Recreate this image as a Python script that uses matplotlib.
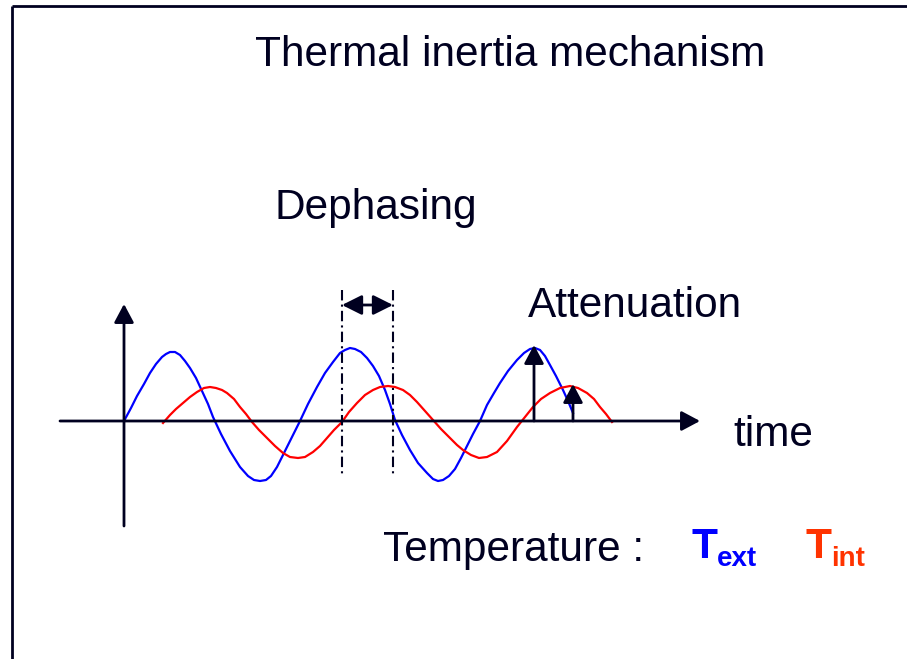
import matplotlib
matplotlib.use('Agg')
import matplotlib.pyplot as plt

# coordinates (pixels, y down)
blue_x = [124, 131, 137, 144, 150, 156, 162, 166, 170, 175, 180, 185, 190, 196,
          202, 208, 213, 221, 230, 240, 248, 254, 260, 266, 271, 277, 283, 291,
          300, 308, 317, 325, 333, 340, 345, 350, 355, 361, 367, 373, 379, 385,
          390, 395, 402, 410, 418, 427, 433, 438, 443, 449, 455, 461, 467, 473,
          480, 487, 494, 500, 508, 517, 524, 530, 535, 540, 545, 550, 556, 563,
          568, 573]
blue_y = [421, 408, 396, 384, 373, 364, 357, 354, 352, 352, 355, 361, 368, 378,
          391, 404, 417, 434, 451, 467, 476, 480, 481, 480, 476, 467, 455, 439,
          421, 404, 387, 373, 362, 353, 350, 348, 349, 352, 358, 366, 376, 390,
          404, 420, 435, 450, 463, 473, 479, 481, 480, 476, 469, 458, 446, 434,
          421, 405, 393, 383, 371, 360, 353, 349, 348, 350, 356, 365, 376, 390,
          401, 413]
red_x = [163, 170, 176, 183, 190, 197, 204, 210, 216, 222, 227, 234, 240, 246,
         252, 259, 267, 275, 283, 290, 298, 305, 313, 320, 327, 334, 342, 349,
         357, 365, 373, 380, 388, 395, 403, 410, 417, 425, 433, 441, 450, 457,
         463, 471, 479, 487, 497, 507, 517, 525, 533, 541, 550, 560, 570, 578,
         587, 594, 600, 606, 612]
red_y = [423, 415, 409, 403, 397, 392, 388, 387, 388, 390, 393, 399, 407, 414,
         422, 430, 438, 446, 453, 457, 458, 457, 452, 446, 438, 430, 422, 412,
         403, 395, 390, 387, 386, 387, 390, 395, 402, 411, 420, 429, 438, 445,
         450, 455, 458, 457, 452, 441, 427, 417, 407, 399, 393, 388, 386, 388,
         393, 399, 407, 414, 422]

dephase_x = [342, 393]
atten_x = [534, 573]
atten_tip = [345, 384]

INK = '#000020'
C_EXT, C_INT, C_TEXT_INT = '#0000ff', '#ff0000', '#ff3300'
FONT = ['Liberation Sans', 'DejaVu Sans']
FS = 30.5

fig = plt.figure(figsize=(9.07, 6.59), dpi=100)
ax = fig.add_axes([0, 0, 1, 1])
ax.set_xlim(0, 907)
ax.set_ylim(659, 0)
ax.axis('off')

# frame (top and left only)
ax.plot([12, 907], [6, 6], color=INK, lw=2, solid_capstyle='butt')
ax.plot([12, 12], [6, 659], color=INK, lw=2, solid_capstyle='butt')

arrow = dict(arrowstyle='-|>,head_length=0.75,head_width=0.4', color=INK,
             lw=2, mutation_scale=15, shrinkA=0, shrinkB=0)
# axes
ax.annotate('', xy=(700, 421), xytext=(60, 421), arrowprops=arrow)
ax.annotate('', xy=(124, 304), xytext=(124, 526), arrowprops=arrow)

ax.plot(blue_x, blue_y, color=C_EXT, lw=1.6, solid_joinstyle='round')
ax.plot(red_x, red_y, color=C_INT, lw=1.6, solid_joinstyle='round')

# dephasing markers
for x in dephase_x:
    ax.plot([x, x], [290, 474], color=INK, lw=1.5, dashes=(5, 2, 1, 2))
ax.annotate('', xy=(dephase_x[1], 305), xytext=(dephase_x[0], 305),
            arrowprops=dict(arrow, arrowstyle='<|-|>,head_length=0.8,head_width=0.4'))

# attenuation arrows
for x, tip in zip(atten_x, atten_tip):
    ax.annotate('', xy=(x, tip), xytext=(x, 421), arrowprops=arrow)

txt = dict(color=INK, fontsize=FS, family=FONT, va='baseline')
ax.text(510, 66, 'Thermal inertia mechanism', ha='center', **txt)
ax.text(275, 219, 'Dephasing', ha='left', **txt)
ax.text(528, 317, 'Attenuation', ha='left', **txt)
ax.text(733, 446, 'time', ha='left', **txt)
ax.text(383, 561, 'Temperature :', ha='left', **txt)

ax.text(692, 558, 'T', color=C_EXT, fontsize=FS, family=FONT,
        weight='bold', va='baseline')
ax.text(717, 566, 'ext', color=C_EXT, fontsize=20, family=FONT,
        weight='bold', va='baseline')
ax.text(806, 558, 'T', color=C_TEXT_INT, fontsize=FS, family=FONT,
        weight='bold', va='baseline')
ax.text(831, 566, 'int', color=C_TEXT_INT, fontsize=20, family=FONT,
        weight='bold', va='baseline')

fig.savefig('out.png', dpi=100)
